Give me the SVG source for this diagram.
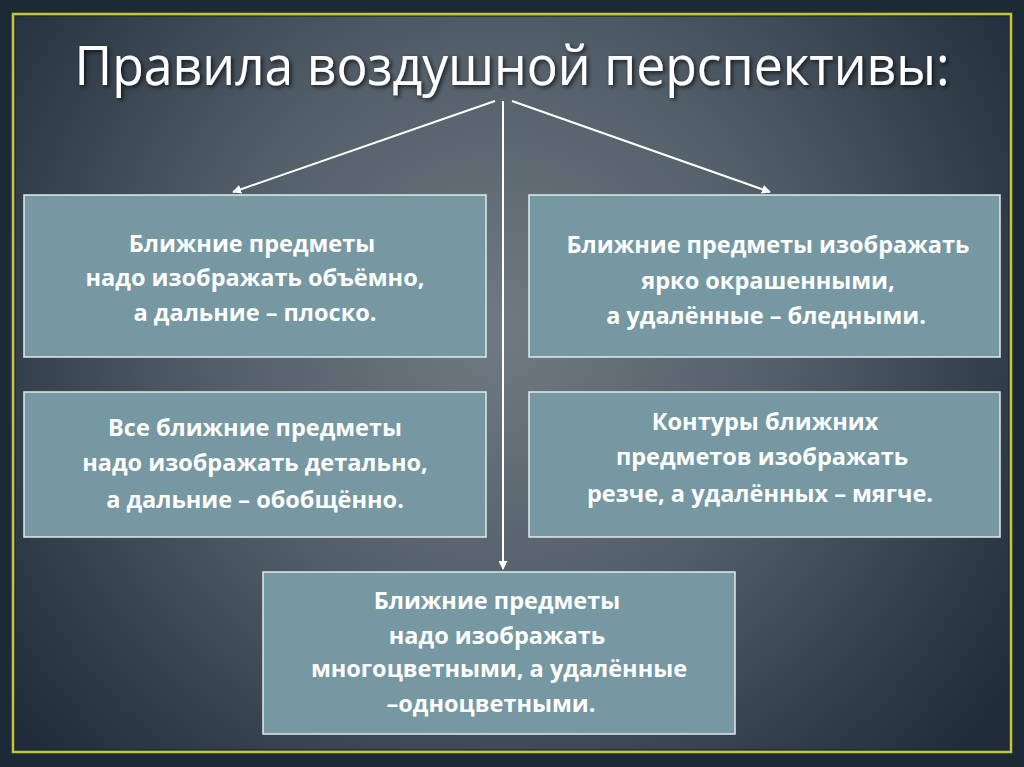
<svg xmlns="http://www.w3.org/2000/svg" width="1024" height="767" viewBox="0 0 1024 767">
<defs>
<radialGradient id="bg" cx="500" cy="330" r="620" gradientUnits="userSpaceOnUse">
<stop offset="0" stop-color="#6f7a82"/>
<stop offset="0.45" stop-color="#535f69"/>
<stop offset="1" stop-color="#1f2d3a"/>
</radialGradient>
<marker id="ah" viewBox="0 0 10 10" refX="9" refY="5" markerWidth="4.5" markerHeight="4.5" orient="auto" markerUnits="strokeWidth">
<path d="M0,0 L10,5 L0,10 z" fill="#ffffff"/>
</marker>
<filter id="sh" x="-5%" y="-20%" width="110%" height="140%">
<feDropShadow dx="2" dy="2" stdDeviation="2" flood-color="#000" flood-opacity="0.7"/>
</filter>
</defs>
<style>
.box{fill:#7598a3;stroke:#e2eaec;stroke-width:1.5}
.t{font-family:"Open Sans","Noto Sans","Liberation Sans",sans-serif;font-weight:bold;font-size:23.5px;fill:#ffffff;text-anchor:middle}
.title{font-family:"Open Sans","Noto Sans","Liberation Sans",sans-serif;font-size:55px;fill:#ffffff;text-anchor:middle}
.conn{stroke:#ffffff;stroke-width:2;fill:none}
</style>
<rect x="0" y="0" width="1024" height="767" fill="#1c2a36"/>
<rect x="13" y="14" width="998" height="738" fill="url(#bg)"/>
<rect x="13" y="14" width="998" height="738" fill="none" stroke="#c6c43a" stroke-width="2.5"/>
<rect x="15.5" y="16.5" width="993" height="733" fill="none" stroke="#1a2630" stroke-width="1" opacity="0.6"/>
<g id="title">
<text class="title" x="512" y="85" textLength="875" lengthAdjust="spacingAndGlyphs" filter="url(#sh)">Правила воздушной перспективы:</text>
</g>
<g id="connectors">
<line class="conn" x1="495" y1="101" x2="233" y2="192" marker-end="url(#ah)"/>
<line class="conn" x1="503" y1="101" x2="503" y2="569" marker-end="url(#ah)"/>
<line class="conn" x1="512" y1="101" x2="770" y2="192" marker-end="url(#ah)"/>
</g>
<g id="box1">
<rect class="box" x="24" y="195" width="462" height="162"/>
<text class="t" x="252" y="252">Ближние предметы</text>
<text class="t" x="255" y="286">надо изображать объёмно,</text>
<text class="t" x="255" y="321">а дальние – плоско.</text>
</g>
<g id="box2">
<rect class="box" x="529" y="195" width="471" height="162"/>
<text class="t" x="768" y="253">Ближние предметы изображать</text>
<text class="t" x="768" y="289">ярко окрашенными,</text>
<text class="t" x="766" y="324">а удалённые – бледными.</text>
</g>
<g id="box3">
<rect class="box" x="24" y="392" width="462" height="145"/>
<text class="t" x="255" y="436">Все ближние предметы</text>
<text class="t" x="255" y="471">надо изображать детально,</text>
<text class="t" x="255" y="508">а дальние – обобщённо.</text>
</g>
<g id="box4">
<rect class="box" x="529" y="392" width="471" height="145"/>
<text class="t" x="765" y="430">Контуры ближних</text>
<text class="t" x="762" y="465">предметов изображать</text>
<text class="t" x="760" y="502">резче, а удалённых – мягче.</text>
</g>
<g id="box5">
<rect class="box" x="263" y="572" width="472" height="162"/>
<text class="t" x="497" y="609">Ближние предметы</text>
<text class="t" x="497" y="644">надо изображать</text>
<text class="t" x="499" y="677">многоцветными, а удалённые</text>
<text class="t" x="491" y="712">–одноцветными.</text>
</g>
</svg>
